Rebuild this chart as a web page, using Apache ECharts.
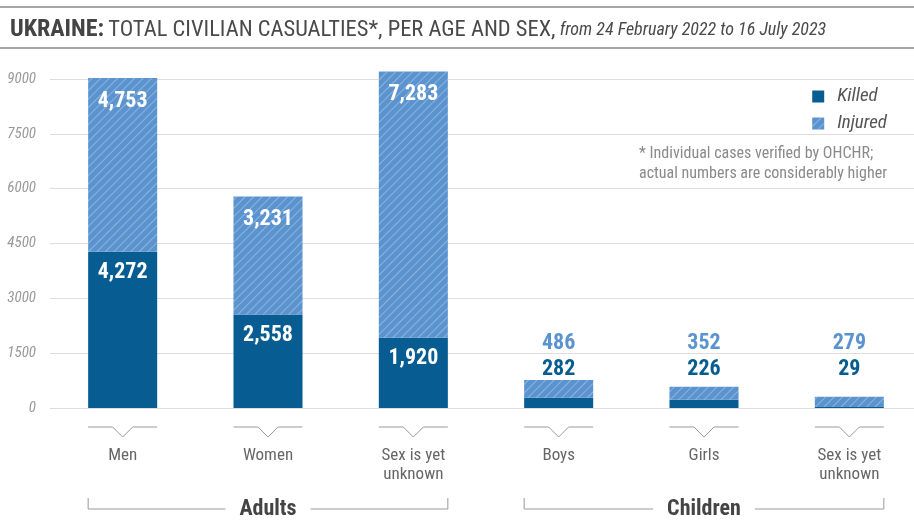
<!DOCTYPE html>
<html><head><meta charset="utf-8">
<script src="https://cdn.jsdelivr.net/npm/echarts@6/dist/echarts.min.js"></script>
<style>html,body{margin:0;padding:0;background:#fff}#c{width:914px;height:529px}</style>
</head><body><div id="c"></div>
<script>
const categories = ['Men', 'Women', 'Sex is yet\nunknown', 'Boys', 'Girls', 'Sex is yet\nunknown'];
const killed = [4272, 2558, 1920, 282, 226, 29];
const injured = [4753, 3231, 7283, 486, 352, 279];
const isChild = [false, false, false, true, true, true];
const groups = [['Adults', 0, 2], ['Children', 3, 5]];
const yTicks = { min: 0, max: 9000, interval: 1500 };

const FONT = "'Roboto Condensed','Liberation Sans Narrow','DejaVu Sans Condensed',Roboto,sans-serif";
const DARK = '#075d92', LIGHT = '#5b93cf';
const fmt = v => v.toLocaleString('en-US');
const chart = echarts.init(document.getElementById('c'));
const maxChildTotal = Math.max(...killed.map((k, i) => isChild[i] ? k + injured[i] : 0));

function baseOption(offsets) {
  return {
    backgroundColor: '#fff',
    animation: false,
    textStyle: { fontFamily: FONT },
    title: {
      left: 5, top: 13,
      text: '{b|UKRAINE:} {n|TOTAL CIVILIAN CASUALTIES*, PER AGE AND SEX,} {i|from 24 February 2022 to 16 July 2023}',
      textStyle: {
        fontWeight: 'normal',
        rich: {
          b: { fontFamily: FONT, fontWeight: 'bold', fontSize: 24, color: '#444' },
          n: { fontFamily: FONT, fontWeight: 'normal', fontSize: 22.5, color: '#4a4a4a' },
          i: { fontFamily: FONT, fontWeight: 'normal', fontStyle: 'italic', fontSize: 18, color: '#4a4a4a' }
        }
      }
    },
    graphic: [
      { type: 'line', shape: { x1: 0, y1: 7, x2: 914, y2: 7 }, style: { stroke: '#888', lineWidth: 1.5 } },
      { type: 'line', shape: { x1: 0, y1: 48, x2: 914, y2: 48 }, style: { stroke: '#888', lineWidth: 1.5 } },
      { type: 'text', right: 27, top: 144, style: {
          text: '* Individual cases verified by OHCHR;\nactual numbers are considerably higher',
          fill: '#8a8a8a', font: '16px ' + FONT, align: 'right', lineHeight: 20 } }
    ],
    legend: {
      orient: 'vertical', right: 22, top: 82, itemWidth: 12, itemHeight: 12, itemGap: 8,
      icon: 'rect',
      textStyle: { fontFamily: FONT, fontStyle: 'italic', fontSize: 19, color: '#555', padding: [0, 0, 0, 8] },
      data: ['Killed', 'Injured']
    },
    grid: { left: 50, right: -8, top: 79, bottom: 121, containLabel: false, outerBoundsMode: 'none' },
    xAxis: {
      type: 'category', data: categories,
      axisLine: { show: false }, axisTick: { show: false },
      axisLabel: { color: '#666', fontSize: 17, margin: 38, lineHeight: 19, fontFamily: FONT, verticalAlign: 'top' }
    },
    yAxis: {
      type: 'value', min: yTicks.min, max: yTicks.max, interval: yTicks.interval,
      axisLabel: { color: '#999', fontStyle: 'italic', fontSize: 15, margin: 14, fontFamily: FONT, formatter: v => String(v) },
      splitLine: { lineStyle: { color: '#ddd' } }
    },
    series: [
      {
        name: 'Killed', type: 'bar', stack: 'all', barWidth: '47.5%', clip: false,
        itemStyle: { color: DARK },
        data: killed.map((v, i) => ({
          value: v,
          label: isChild[i] ? { show: false } : {
            show: true, position: 'insideTop', distance: 10, formatter: fmt(v),
            color: '#fff', fontWeight: 'bold', fontSize: 22, fontFamily: FONT
          }
        }))
      },
      {
        name: 'Injured', type: 'bar', stack: 'all', barWidth: '47.5%', clip: false,
        itemStyle: {
          color: LIGHT,
          decal: { symbol: 'rect', symbolSize: 1, dashArrayX: [1, 0], dashArrayY: [1, 4.5], rotation: -Math.PI / 4, color: 'rgba(255,255,255,0.3)' }
        },
        data: injured.map((v, i) => ({
          value: v,
          label: isChild[i] ? {
            show: true, position: 'top', distance: -3, offset: [0, offsets ? offsets[i] : 0],
            formatter: '{a|' + fmt(v) + '}\n{b|' + fmt(killed[i]) + '}',
            rich: {
              a: { color: LIGHT, fontWeight: 'bold', fontSize: 22, lineHeight: 26, fontFamily: FONT },
              b: { color: DARK, fontWeight: 'bold', fontSize: 22, lineHeight: 26, fontFamily: FONT }
            }
          } : {
            show: true, position: 'insideTop', distance: 12, formatter: fmt(v),
            color: '#fff', fontWeight: 'bold', fontSize: 22, fontFamily: FONT
          }
        }))
      },
      {
        name: 'ticks', type: 'custom', silent: true, clip: false,
        data: categories.map((c, i) => [i]),
        renderItem: (params, api) => {
          const p = api.coord([api.value(0), 0]);
          const w = api.size([1, 0])[0] * 0.475;
          const y = p[1] + 19;
          return { type: 'polyline', shape: { points: [[p[0] - w / 2, y], [p[0] - 10, y], [p[0], y + 10], [p[0] + 10, y], [p[0] + w / 2, y]] },
            style: { stroke: '#999', fill: null, lineWidth: 1 } };
        }
      },
      {
        name: 'groups', type: 'custom', silent: true, clip: false,
        data: groups.map(g => [g[1], g[2], g[0]]),
        renderItem: (params, api) => {
          const a = api.coord([api.value(0), 0]);
          const b = api.coord([api.value(1), 0]);
          const w = api.size([1, 0])[0] * 0.475;
          const x1 = a[0] - w / 2, x2 = b[0] + w / 2, y = a[1] + 101;
          const name = groups[params.dataIndex][0];
          return { type: 'group', children: [
            { type: 'polyline', shape: { points: [[x1, y - 11], [x1, y], [x2, y], [x2, y - 11]] }, style: { stroke: '#999', fill: null, lineWidth: 1 } },
            { type: 'text', x: (x1 + x2) / 2, y: y, style: { text: name, align: 'center', verticalAlign: 'middle',
              font: 'bold 22px ' + FONT, fill: '#444', backgroundColor: '#fff', padding: [0, 14] } }
          ] };
        }
      }
    ]
  };
}
chart.setOption(baseOption(null));
const levelPx = chart.convertToPixel({ yAxisIndex: 0 }, maxChildTotal);
const offsets = killed.map((k, i) => isChild[i] ? levelPx - chart.convertToPixel({ yAxisIndex: 0 }, k + injured[i]) : 0);
chart.setOption(baseOption(offsets));
</script>
</body></html>
